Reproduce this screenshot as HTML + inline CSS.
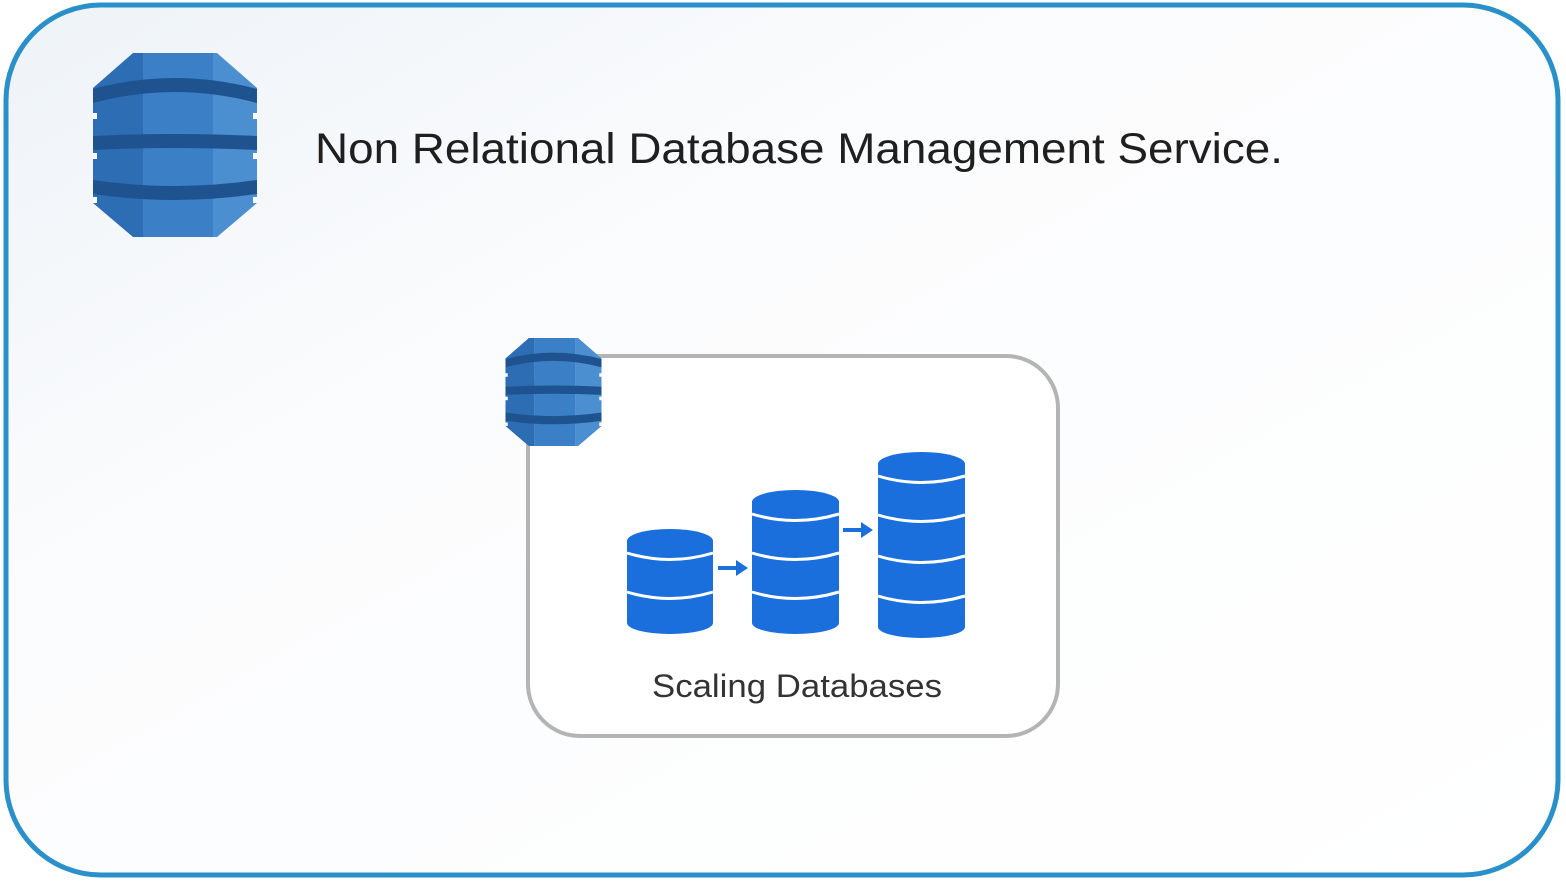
<!DOCTYPE html>
<html><head><meta charset="utf-8"><style>
html,body{margin:0;padding:0;background:#fff}
svg{display:block}
</style></head><body>
<svg width="1566" height="882" viewBox="0 0 1566 882" xmlns="http://www.w3.org/2000/svg">
<defs>
<linearGradient id="bg" x1="0" y1="0" x2="1" y2="1">
<stop offset="0" stop-color="#eef3f8"/><stop offset="0.35" stop-color="#fbfcfd"/><stop offset="1" stop-color="#ffffff"/>
</linearGradient>
<clipPath id="oct"><path d="M40 0 H124 L164 35 V150 L124 184 H40 L0 150 V35 Z"/></clipPath>
<symbol id="dyn" viewBox="0 0 164 184">
<g clip-path="url(#oct)">
<rect x="0" y="0" width="50" height="184" fill="#2d6db3"/>
<rect x="50" y="0" width="70" height="184" fill="#3b7fc6"/>
<rect x="120" y="0" width="44" height="184" fill="#4b8fd0"/>
<path d="M0 36 Q82 14 164 36 V50 Q82 28 0 50 Z" fill="#1e5390"/>
<path d="M0 83 Q82 79 164 83 V97 Q82 93 0 97 Z" fill="#1e5390"/>
<path d="M0 127 Q82 139 164 127 V141 Q82 153 0 141 Z" fill="#1e5390"/>
</g>
<rect x="0" y="60" width="4" height="6" fill="#fff"/>
<rect x="0" y="100" width="4" height="6" fill="#fff"/>
<rect x="0" y="144" width="4" height="6" fill="#fff"/>
<rect x="160" y="60" width="4" height="6" fill="#fff"/>
<rect x="160" y="100" width="4" height="6" fill="#fff"/>
<rect x="160" y="144" width="4" height="6" fill="#fff"/>
</symbol>
</defs>
<rect x="0" y="0" width="1566" height="882" fill="#fff"/>
<rect x="6" y="5" width="1552" height="870" rx="95" fill="url(#bg)" stroke="#2a90c9" stroke-width="5"/>
<use href="#dyn" x="93" y="53" width="164" height="184"/>
<text x="315" y="163" font-family="Liberation Sans, sans-serif" font-size="43" fill="#1f1f1f" textLength="968" lengthAdjust="spacingAndGlyphs">Non Relational Database Management Service.</text>
<rect x="528" y="356" width="530" height="380" rx="52" fill="#fff" stroke="#b4b4b4" stroke-width="4"/>
<use href="#dyn" x="505" y="338" width="97" height="108"/>
<g fill="#1a6fdc">
<rect x="627" y="541" width="86" height="82"/>
<ellipse cx="670" cy="541" rx="43" ry="12"/>
<ellipse cx="670" cy="623" rx="43" ry="11"/>
<rect x="752" y="502" width="87" height="121"/>
<ellipse cx="795.5" cy="502" rx="43.5" ry="12"/>
<ellipse cx="795.5" cy="623" rx="43.5" ry="11"/>
<rect x="878" y="464" width="87" height="163"/>
<ellipse cx="921.5" cy="464" rx="43.5" ry="12"/>
<ellipse cx="921.5" cy="627" rx="43.5" ry="11"/>
<rect x="718" y="566" width="20" height="4"/><path d="M736 560 L748 568 L736 576 Z"/>
<rect x="843" y="528" width="20" height="4"/><path d="M861 522 L873 530 L861 538 Z"/>
</g>
<g fill="none" stroke="#fff" stroke-width="3">
<path d="M627 553 Q670 566 713 553"/><path d="M627 592 Q670 605 713 592"/>
<path d="M752 514 Q795 527 839 514"/><path d="M752 553 Q795 566 839 553"/><path d="M752 592 Q795 605 839 592"/>
<path d="M878 476 Q921 489 965 476"/><path d="M878 515 Q921 528 965 515"/><path d="M878 556 Q921 569 965 556"/><path d="M878 596 Q921 609 965 596"/>
</g>
<text x="652" y="697" font-family="Liberation Sans, sans-serif" font-size="32" fill="#333" textLength="290" lengthAdjust="spacingAndGlyphs">Scaling Databases</text>
</svg>
</body></html>
